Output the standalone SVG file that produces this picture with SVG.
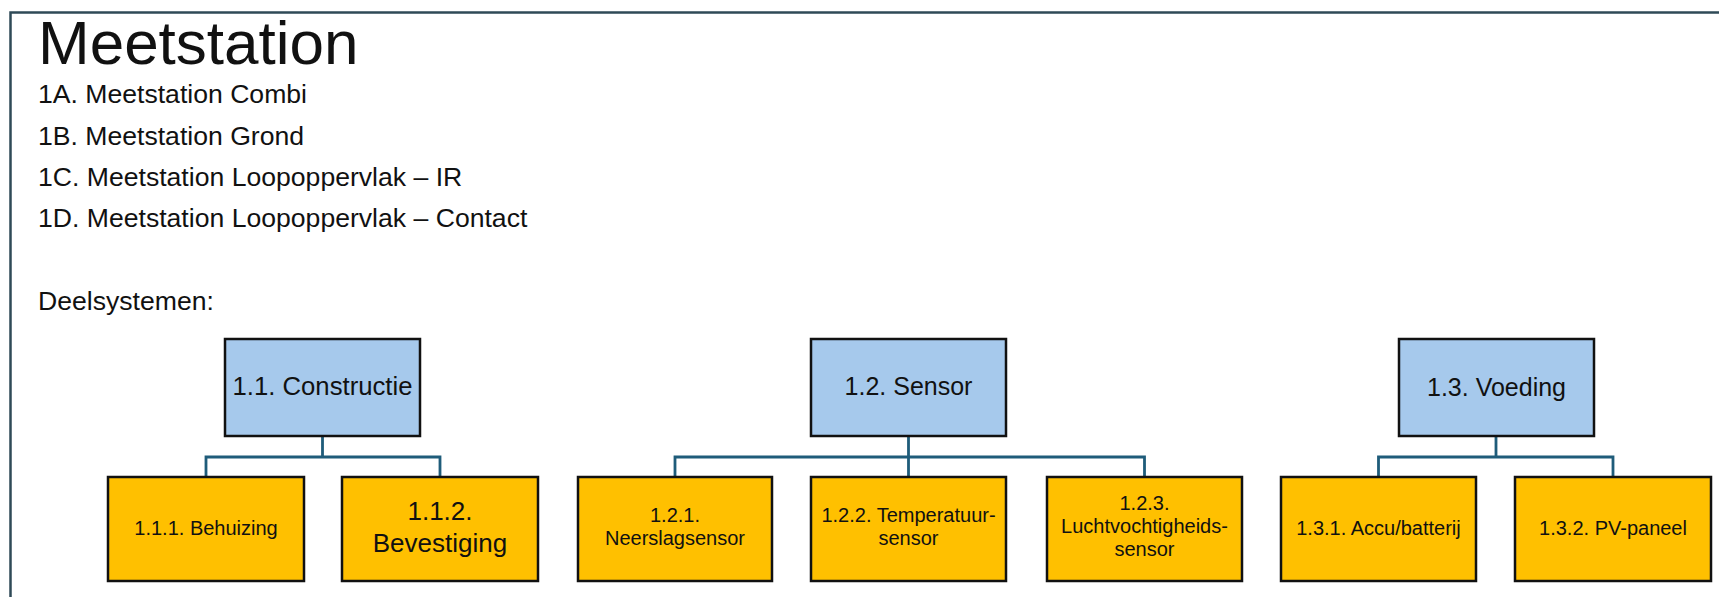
<svg xmlns="http://www.w3.org/2000/svg" width="1719" height="597" viewBox="0 0 1719 597">
<style>
.t{font-family:"Liberation Sans",Arial,sans-serif;fill:#111;}
.p{fill:#A6C9EC;stroke:#111;stroke-width:2.5;}
.c{fill:#FFC000;stroke:#111;stroke-width:2.5;}
.bt{font-family:"Liberation Sans",Arial,sans-serif;fill:#111;text-anchor:middle;}
.conn{fill:none;stroke:#1F5C7A;stroke-width:2.8;}
</style>
<rect x="0" y="0" width="1719" height="597" fill="#fff"/>
<rect id="frame" x="10.5" y="12.5" width="1720" height="600" fill="none" stroke="#2F4A57" stroke-width="2.5"/>
<g id="header">
<text class="t" x="38" y="63.5" font-size="62">Meetstation</text>
<text class="t" x="38" y="103" font-size="26.6">1A. Meetstation Combi</text>
<text class="t" x="38" y="145" font-size="26.6">1B. Meetstation Grond</text>
<text class="t" x="38" y="186" font-size="26.6">1C. Meetstation Loopoppervlak – IR</text>
<text class="t" x="38" y="227" font-size="26.6">1D. Meetstation Loopoppervlak – Contact</text>
<text class="t" x="38" y="310" font-size="26.6">Deelsystemen:</text>
</g>
<g id="connectors">
<path class="conn" d="M322.5 436 V457 M206 477 V457 H440 V477"/>
<path class="conn" d="M908.5 437 V477 M675 477 V457 H1144.5 V477"/>
<path class="conn" d="M1496 437 V457 M1378.5 477 V457 H1613 V477"/>
</g>
<g id="n11">
<rect class="p" x="225" y="339" width="195" height="97"/>
<text class="bt" x="322.5" y="394.5" font-size="25.7">1.1. Constructie</text>
</g>
<g id="n12">
<rect class="p" x="811" y="339" width="195" height="97"/>
<text class="bt" x="908.5" y="395" font-size="25">1.2. Sensor</text>
</g>
<g id="n13">
<rect class="p" x="1399" y="339" width="195" height="97"/>
<text class="bt" x="1496.5" y="396" font-size="25">1.3. Voeding</text>
</g>
<g id="n111">
<rect class="c" x="108" y="477" width="196" height="104"/>
<text class="bt" x="206" y="535" font-size="20">1.1.1. Behuizing</text>
</g>
<g id="n112">
<rect class="c" x="342" y="477" width="196" height="104"/>
<text class="bt" x="440" y="520" font-size="26">1.1.2.</text>
<text class="bt" x="440" y="552" font-size="26">Bevestiging</text>
</g>
<g id="n121">
<rect class="c" x="578" y="477" width="194" height="104"/>
<text class="bt" x="675" y="522" font-size="20">1.2.1.</text>
<text class="bt" x="675" y="545" font-size="20">Neerslagsensor</text>
</g>
<g id="n122">
<rect class="c" x="811" y="477" width="195" height="104"/>
<text class="bt" x="908.5" y="522" font-size="20">1.2.2. Temperatuur-</text>
<text class="bt" x="908.5" y="545" font-size="20">sensor</text>
</g>
<g id="n123">
<rect class="c" x="1047" y="477" width="195" height="104"/>
<text class="bt" x="1144.5" y="510" font-size="20">1.2.3.</text>
<text class="bt" x="1144.5" y="533" font-size="20">Luchtvochtigheids-</text>
<text class="bt" x="1144.5" y="556" font-size="20">sensor</text>
</g>
<g id="n131">
<rect class="c" x="1281" y="477" width="195" height="104"/>
<text class="bt" x="1378.5" y="535" font-size="20">1.3.1. Accu/batterij</text>
</g>
<g id="n132">
<rect class="c" x="1515" y="477" width="196" height="104"/>
<text class="bt" x="1613" y="535" font-size="20">1.3.2. PV-paneel</text>
</g>
</svg>
